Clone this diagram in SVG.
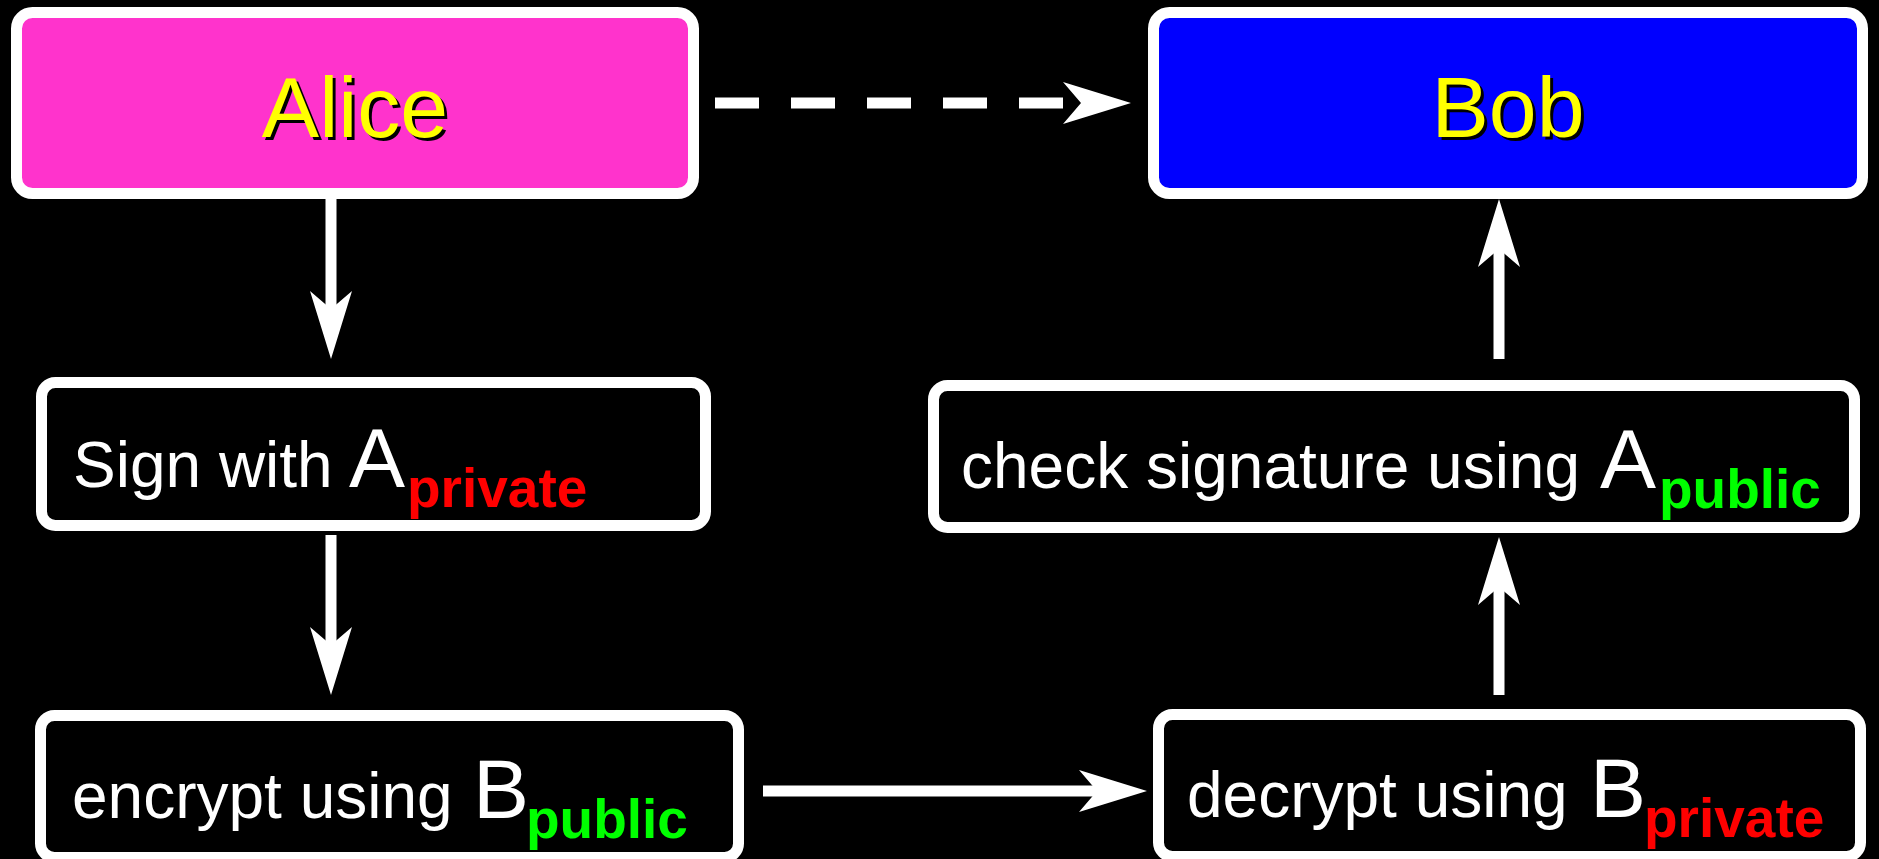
<svg xmlns="http://www.w3.org/2000/svg" width="1879" height="859" viewBox="0 0 1879 859">
<defs>
<style>
.box{stroke:#fff;stroke-width:11;}
.plain{fill:#000;}
.t{font-family:"Liberation Sans",Arial,sans-serif;fill:#fff;font-size:64px;}
.big{font-size:84px;}
.sub{font-weight:bold;font-size:55px;}
.red{fill:#ff0000;}
.green{fill:#00ff00;}
.title{font-family:"Liberation Sans",Arial,sans-serif;font-size:86px;text-anchor:middle;}
.conn{stroke:#fff;stroke-width:11;fill:none;}
</style>
<marker id="ah" markerUnits="userSpaceOnUse" markerWidth="72" markerHeight="46" viewBox="-70 -23 72 46" refX="-45" refY="0" orient="auto">
<path d="M0,0 L-68,-21 L-50,0 L-68,21 Z" fill="#fff"/>
</marker>
</defs>
<rect x="0" y="0" width="1879" height="859" fill="#000"/>

<g id="connectors">
<line class="conn" x1="331" y1="199" x2="331" y2="314" marker-end="url(#ah)"/>
<line class="conn" x1="331" y1="535" x2="331" y2="650" marker-end="url(#ah)"/>
<line class="conn" x1="715" y1="103" x2="1086" y2="103" stroke-dasharray="44 32" marker-end="url(#ah)"/>
<line class="conn" x1="763" y1="791" x2="1102" y2="791" marker-end="url(#ah)"/>
<line class="conn" x1="1499" y1="695" x2="1499" y2="582" marker-end="url(#ah)"/>
<line class="conn" x1="1499" y1="359" x2="1499" y2="244" marker-end="url(#ah)"/>
</g>

<g id="alice">
<rect class="box" x="16.5" y="12.5" width="677" height="181" rx="16" fill="#ff33cc"/>
<text class="title" x="358" y="140" fill="#000">Alice</text>
<text class="title" x="355" y="137" fill="#ffff00">Alice</text>
</g>

<g id="bob">
<rect class="box" x="1153.5" y="12.5" width="709" height="181" rx="16" fill="#0000ff"/>
<text class="title" x="1511" y="140" fill="#000">Bob</text>
<text class="title" x="1508" y="137" fill="#ffff00">Bob</text>
</g>

<g id="sign">
<rect class="box plain" x="41.5" y="382.5" width="664" height="143" rx="14"/>
<text class="t" x="73" y="487">Sign with</text>
<text class="t big" x="349" y="487">A</text>
<text class="t sub red" x="407" y="507">private</text>
</g>

<g id="encrypt">
<rect class="box plain" x="40.5" y="715.5" width="698" height="142" rx="14"/>
<text class="t" x="72" y="818">encrypt using</text>
<text class="t big" x="473" y="818">B</text>
<text class="t sub green" x="526" y="838">public</text>
</g>

<g id="check">
<rect class="box plain" x="933.5" y="385.5" width="921" height="142" rx="14"/>
<text class="t" x="961" y="488">check signature using</text>
<text class="t big" x="1600" y="488">A</text>
<text class="t sub green" x="1659" y="508">public</text>
</g>

<g id="decrypt">
<rect class="box plain" x="1158.5" y="714.5" width="702" height="142" rx="14"/>
<text class="t" x="1187" y="817">decrypt using</text>
<text class="t big" x="1590" y="817">B</text>
<text class="t sub red" x="1644" y="837">private</text>
</g>
</svg>
